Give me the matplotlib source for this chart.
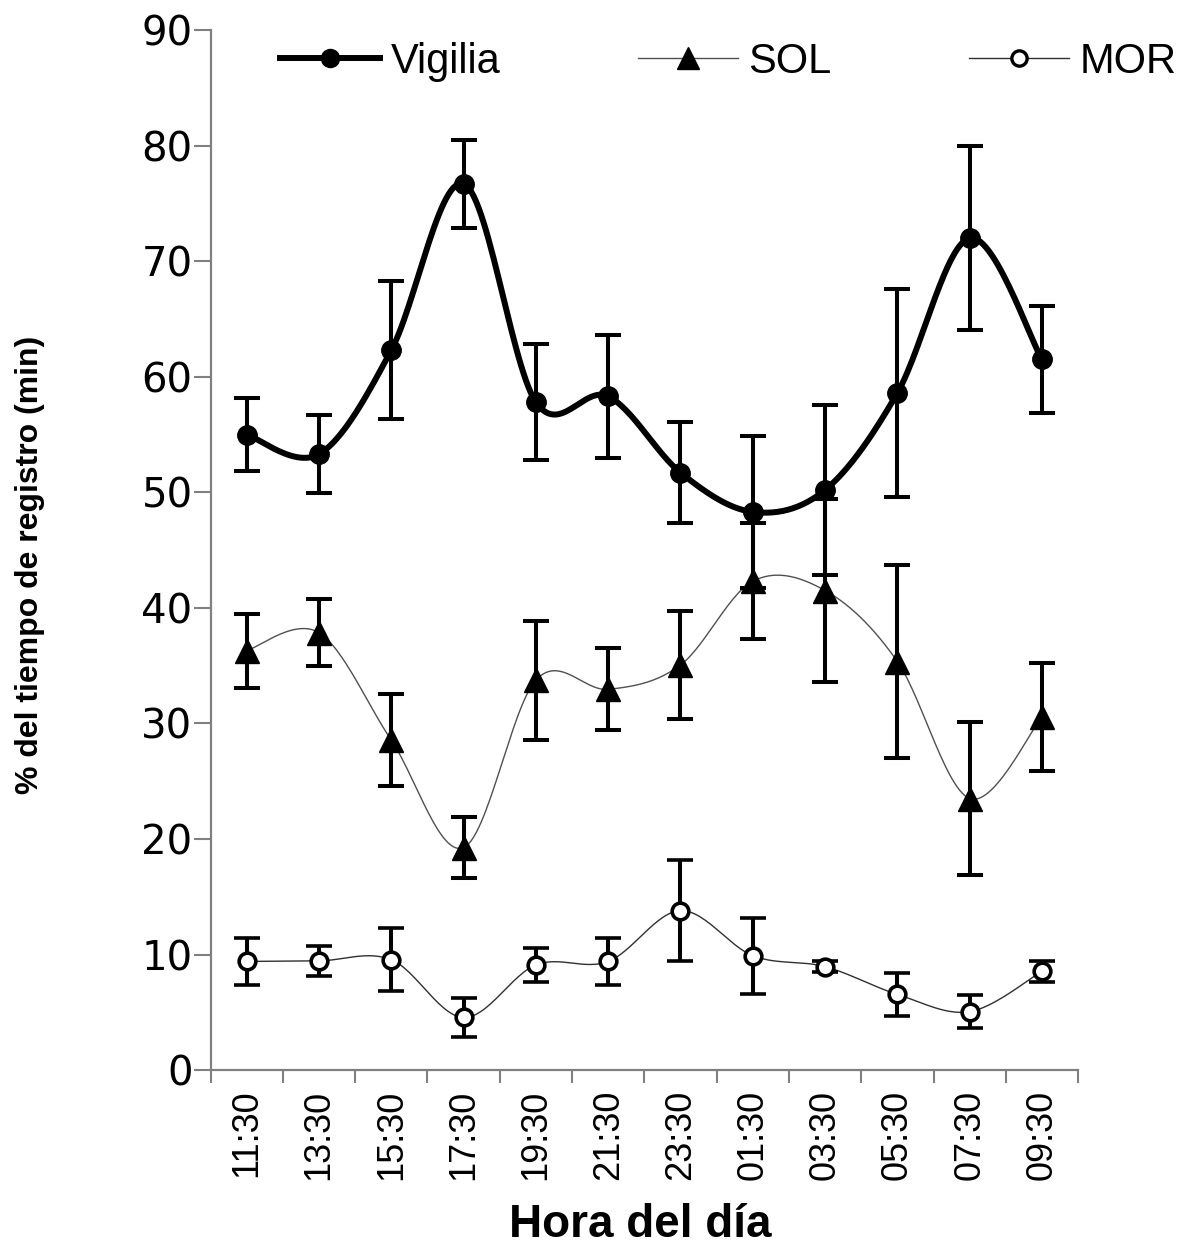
import numpy as np
import matplotlib.pyplot as plt
from matplotlib.lines import Line2D

# datos
horas = ["11:30", "13:30", "15:30", "17:30", "19:30", "21:30",
         "23:30", "01:30", "03:30", "05:30", "07:30", "09:30"]

vigilia = [55.0, 53.3, 62.3, 76.7, 57.8, 58.3, 51.7, 48.3, 50.2, 58.6, 72.0, 61.5]
vigilia_err = [3.2, 3.35, 5.95, 3.8, 5.0, 5.3, 4.35, 6.6, 7.35, 9.0, 7.95, 4.6]

sol = [36.3, 37.85, 28.55, 19.25, 33.75, 32.95, 35.05, 42.3, 41.5, 35.35, 23.5, 30.55]
sol_err = [3.2, 2.9, 4.0, 2.65, 5.15, 3.55, 4.65, 5.0, 7.9, 8.35, 6.6, 4.65]

mor = [9.4, 9.45, 9.55, 4.55, 9.1, 9.4, 13.8, 9.9, 8.95, 6.55, 5.05, 8.55]
mor_err = [2.0, 1.3, 2.75, 1.7, 1.45, 2.0, 4.4, 3.3, 0.45, 1.85, 1.45, 0.9]


# línea suavizada tipo Excel (Bezier / Catmull-Rom)
def suavizar(x, y, n=30):
    x = np.asarray(x, float)
    y = np.asarray(y, float)
    px = np.concatenate([[x[0]], x, [x[-1]]])
    py = np.concatenate([[y[0]], y, [y[-1]]])
    t = np.linspace(0, 1, n)
    xs, ys = [], []
    for i in range(1, len(px) - 2):
        p0 = np.array([px[i], py[i]])
        p3 = np.array([px[i + 1], py[i + 1]])
        c1 = p0 + (np.array([px[i + 1], py[i + 1]]) - np.array([px[i - 1], py[i - 1]])) / 6
        c2 = p3 - (np.array([px[i + 2], py[i + 2]]) - np.array([px[i], py[i]])) / 6
        b = ((1 - t) ** 3)[:, None] * p0 + (3 * (1 - t) ** 2 * t)[:, None] * c1 \
            + (3 * (1 - t) * t ** 2)[:, None] * c2 + (t ** 3)[:, None] * p3
        xs.extend(b[:, 0])
        ys.extend(b[:, 1])
    return xs, ys


fig = plt.figure(figsize=(11.95, 12.53), dpi=100)
ax = fig.add_axes([0.1762, 0.1460, 0.726, 0.830])

x = np.arange(len(horas))
err_kw = dict(ecolor='black', elinewidth=2.9, capsize=9.5, capthick=2.9, linestyle='none')

# SOL
sx, sy = suavizar(x, sol)
ax.plot(sx, sy, color='#505050', lw=1.0, zorder=2)
ax.errorbar(x, sol, yerr=sol_err, marker='^', markersize=17, color='black', zorder=3, **err_kw)

# MOR
mx, my = suavizar(x, mor)
ax.plot(mx, my, color='#303030', lw=1.0, zorder=2)
ax.errorbar(x, mor, yerr=mor_err, marker='o', markersize=12, markerfacecolor='white',
            markeredgecolor='black', markeredgewidth=2.6, color='black', zorder=3, **err_kw)

# Vigilia
vx, vy = suavizar(x, vigilia)
ax.plot(vx, vy, color='black', lw=4.3, zorder=4)
ax.errorbar(x, vigilia, yerr=vigilia_err, marker='o', markersize=14, color='black', zorder=5, **err_kw)

ax.set_xlim(-0.5, len(horas) - 0.5)
ax.set_ylim(0, 90)
ax.set_yticks(np.arange(0, 91, 10))

ax.set_xticks(np.arange(-0.5, len(horas), 1.0))
ax.set_xticklabels([])
ax.set_xticks(x, minor=True)
ax.set_xticklabels(horas, minor=True, rotation=90, fontsize=26, family='Liberation Sans')
ax.tick_params(axis='x', which='major', length=9, width=1.5, color='#808080', direction='out')
ax.tick_params(axis='x', which='minor', length=0, pad=14)
ax.tick_params(axis='y', length=12, width=1.5, color='#808080', direction='out', pad=1, labelsize=29)

for side in ['top', 'right']:
    ax.spines[side].set_visible(False)
for side in ['left', 'bottom']:
    ax.spines[side].set_color('#808080')
    ax.spines[side].set_linewidth(1.6)

fig.text(30 / 1195, 1 - 565 / 1253, '% del tiempo de registro (min)', rotation=90,
         ha='center', va='center', fontsize=23, fontweight='bold', family='Liberation Sans')
fig.text(640 / 1195, 1 - 1225 / 1253, 'Hora del día', ha='center', va='center',
         fontsize=33, fontweight='bold', family='Liberation Sans')

handles = [
    Line2D([], [], color='black', lw=4.3, marker='o', markersize=13),
    Line2D([], [], color='#505050', lw=1.0, marker='^', markersize=16,
           markerfacecolor='black', markeredgecolor='black'),
    Line2D([], [], color='#303030', lw=1.0, marker='o', markersize=11, markerfacecolor='white',
           markeredgecolor='black', markeredgewidth=2.4),
]
fig.legend(handles, ['Vigilia', 'SOL', 'MOR'], loc='center left',
           bbox_to_anchor=(280 / 1195, 1 - 62 / 1253), ncol=3, frameon=False,
           prop={'family': 'Liberation Sans', 'size': 30}, handlelength=2.4,
           handletextpad=0.25, columnspacing=3.3, borderpad=0, borderaxespad=0)

fig.savefig('out.png', dpi=100)
